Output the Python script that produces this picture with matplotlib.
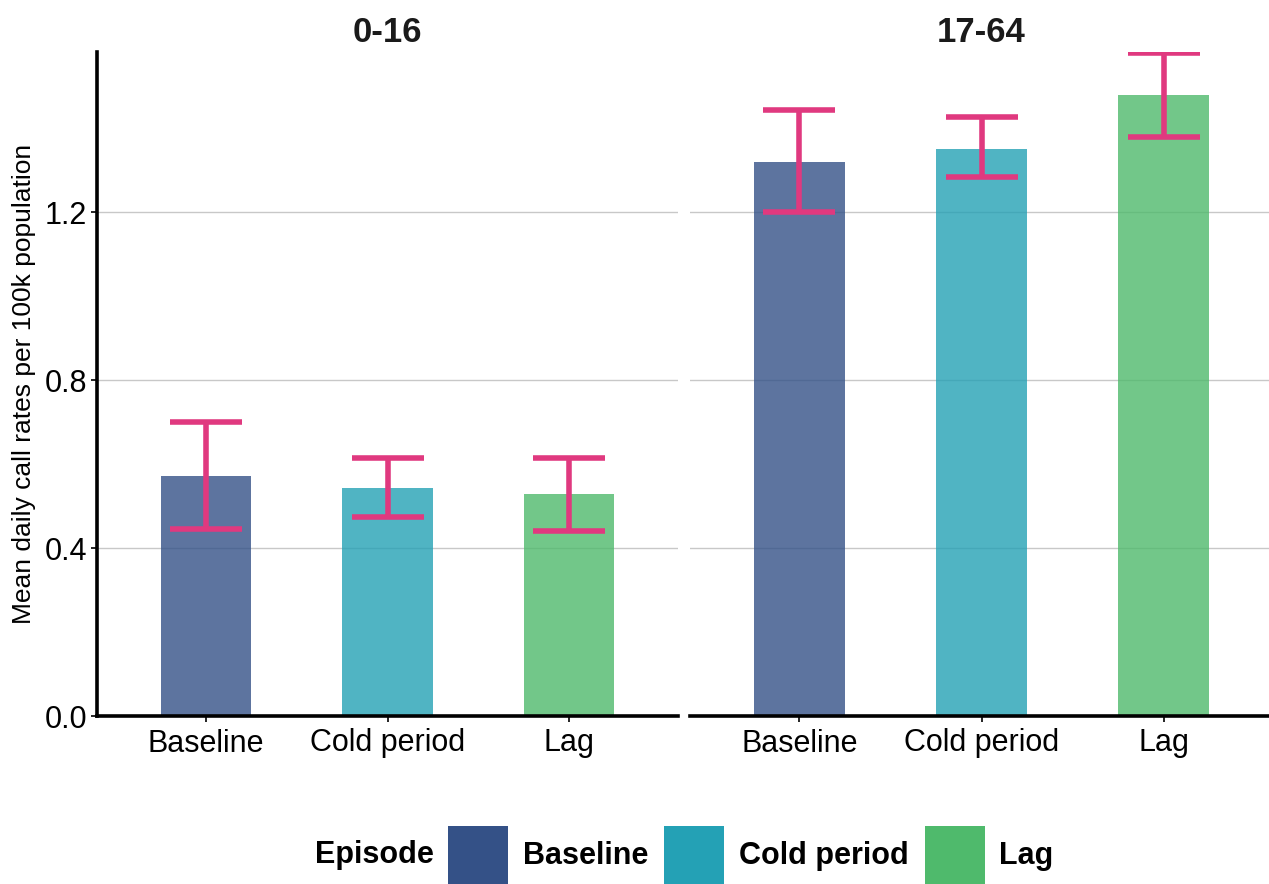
import matplotlib
matplotlib.use("Agg")
import matplotlib.pyplot as plt
from matplotlib.patches import Patch

plt.rcParams['font.family'] = ['Liberation Sans', 'DejaVu Sans']

panels = ["0-16", "17-64"]
episodes = ["Baseline", "Cold period", "Lag"]
means = {
    "0-16": [0.572, 0.544, 0.529],
    "17-64": [1.321, 1.352, 1.480],
}
lower = {
    "0-16": [0.446, 0.475, 0.440],
    "17-64": [1.200, 1.283, 1.379],
}
upper = {
    "0-16": [0.701, 0.615, 0.614],
    "17-64": [1.445, 1.426, 1.579],
}
colors = ["#345187", "#24A1B5", "#4FBA6C"]
err_color = "#E0397F"
yticks = [0.0, 0.4, 0.8, 1.2]

W, H = 1269, 884
fig = plt.figure(figsize=(W / 100, H / 100), dpi=100)

axes_px = [(97, 678), (690, 1273)]
top_px, bot_px = 52, 716

for i, (panel, (x0, x1)) in enumerate(zip(panels, axes_px)):
    ax = fig.add_axes([x0 / W, 1 - bot_px / H, (x1 - x0) / W, (bot_px - top_px) / H])
    xs = list(range(1, len(episodes) + 1))
    ax.bar(xs, means[panel], width=0.5, color=colors, alpha=0.8, zorder=2, linewidth=0)
    m = means[panel]
    yerr = [[m[k] - lower[panel][k] for k in range(3)], [upper[panel][k] - m[k] for k in range(3)]]
    ax.errorbar(xs, m, yerr=yerr, fmt='none', ecolor=err_color, elinewidth=4.0,
                capsize=26, capthick=4.0, zorder=3)
    ax.set_xlim(0.4, 3.6)
    ax.set_ylim(0, 1.582)
    ax.set_yticks(yticks)
    ax.set_xticks(xs)
    ax.set_xticklabels(episodes, fontsize=22)
    ax.grid(axis='y', color='#C8C8C8', linewidth=1.0, zorder=0)
    ax.set_axisbelow(True)
    for s in ['top', 'right']:
        ax.spines[s].set_visible(False)
    ax.spines['bottom'].set_linewidth(2.6)
    ax.spines['left'].set_linewidth(2.6)
    ax.tick_params(axis='both', length=4, width=1.2, colors='black', labelsize=22, pad=3)
    ax.tick_params(axis='x', pad=5)
    if i == 0:
        ax.set_yticklabels([f"{v:.1f}" for v in yticks])
        ax.set_ylabel("Mean daily call rates per 100k population", fontsize=19, labelpad=6)
    else:
        ax.spines['left'].set_visible(False)
        ax.tick_params(axis='y', left=False, labelleft=False)
    ax.set_title(panel, fontsize=25, fontweight='bold', color='#1A1A1A', pad=7)

handles = [Patch(facecolor=c, edgecolor='none') for c in colors]
leg = fig.legend(handles, episodes, loc='upper left', bbox_to_anchor=(448 / W, 1 - 826 / H),
                 ncol=3, frameon=False, borderpad=0, borderaxespad=0,
                 handlelength=1.96, handleheight=2.56, handletextpad=0.49, columnspacing=0.52,
                 prop={'size': 22, 'weight': 'bold'})
fig.text(315 / W, 1 - 855 / H, "Episode", fontsize=22, fontweight='bold', va='center', ha='left')

fig.savefig("out.png", dpi=100)
